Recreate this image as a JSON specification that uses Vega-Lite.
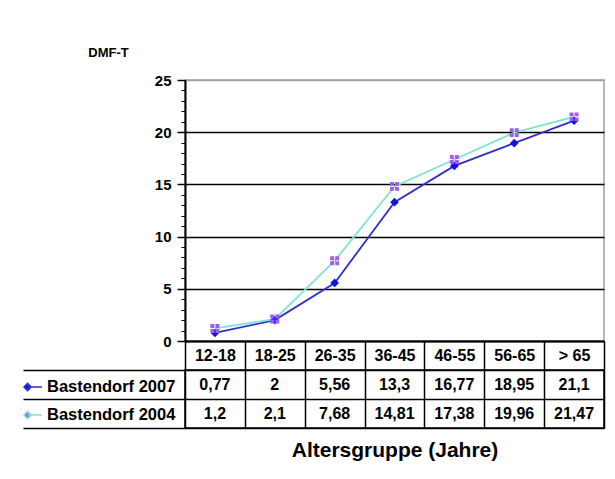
{
  "$schema": "https://vega.github.io/schema/vega-lite/v6.json",
  "autosize": {"type": "pad"},
  "padding": {"left": 21, "top": 45, "right": 5, "bottom": 5},
  "background": "white",
  "bounds": "flush",
  "spacing": 29,
  "config": {
    "font": "Liberation Sans",
    "locale": {"number": {"decimal": ",", "thousands": ".", "grouping": [3], "currency": ["", " €"]}},
    "axis": {"labelColor": "black", "titleColor": "black", "labelFont": "Liberation Sans", "titleFont": "Liberation Sans"},
    "legend": {"labelColor": "black"}
  },
  "datasets": {
    "dmft": [
      {"group": "12-18", "series": "Bastendorf 2007", "value": 0.77},
      {"group": "18-25", "series": "Bastendorf 2007", "value": 2},
      {"group": "26-35", "series": "Bastendorf 2007", "value": 5.56},
      {"group": "36-45", "series": "Bastendorf 2007", "value": 13.3},
      {"group": "46-55", "series": "Bastendorf 2007", "value": 16.77},
      {"group": "56-65", "series": "Bastendorf 2007", "value": 18.95},
      {"group": "> 65", "series": "Bastendorf 2007", "value": 21.1},
      {"group": "12-18", "series": "Bastendorf 2004", "value": 1.2},
      {"group": "18-25", "series": "Bastendorf 2004", "value": 2.1},
      {"group": "26-35", "series": "Bastendorf 2004", "value": 7.68},
      {"group": "36-45", "series": "Bastendorf 2004", "value": 14.81},
      {"group": "46-55", "series": "Bastendorf 2004", "value": 17.38},
      {"group": "56-65", "series": "Bastendorf 2004", "value": 19.96},
      {"group": "> 65", "series": "Bastendorf 2004", "value": 21.47}
    ]
  },
  "vconcat": [
    {
      "width": 419,
      "height": 261,
      "view": {"stroke": "#a0a0a0", "strokeWidth": 1.5},
      "data": {"name": "dmft"},
      "encoding": {
        "x": {
          "field": "group", "type": "ordinal",
          "sort": ["12-18", "18-25", "26-35", "36-45", "46-55", "56-65", "> 65"],
          "bandPosition": 0.5,
          "scale": {"type": "band", "paddingInner": 0, "paddingOuter": 0},
          "axis": {
            "orient": "bottom", "title": null, "grid": false,
            "domainColor": "black", "domainWidth": 2,
            "ticks": true, "tickBand": "extent", "tickSize": 29, "tickColor": "black", "tickWidth": 1.5,
            "labelFontSize": 16, "labelFontWeight": "bold", "labelBaseline": "middle", "labelPadding": -14.5,
            "labelAngle": 0, "labelOverlap": false
          }
        }
      },
      "layer": [
        {
          "mark": {"type": "line", "strokeWidth": 1.8},
          "encoding": {
            "y": {
              "field": "value", "type": "quantitative",
              "scale": {"domain": [0, 25], "nice": false},
              "axis": {
                "values": [0, 5, 10, 15, 20, 25],
                "domainColor": "black", "domainWidth": 2,
                "tickSize": 8, "tickColor": "black", "tickWidth": 1.5,
                "labelFontSize": 15, "labelFontWeight": "bold", "labelPadding": 6,
                "grid": true, "gridWidth": 1.5,
                "gridColor": {"condition": {"test": "datum.value == 25", "value": "#a0a0a0"}, "value": "black"},
                "title": "DMF-T", "titleAngle": 0, "titleFontSize": 13, "titleFontWeight": "bold",
                "titleX": -77, "titleY": -28, "titleAlign": "center", "titleBaseline": "middle"
              }
            },
            "stroke": {
              "field": "series", "type": "nominal",
              "scale": {"domain": ["Bastendorf 2007", "Bastendorf 2004"], "range": ["#3030cc", "#7fe3d0"]},
              "legend": {
                "orient": "none", "legendX": -162, "legendY": 297, "title": null, "padding": 0,
                "labelFontSize": 16.5, "labelFontWeight": "bold", "labelOffset": 4, "labelLimit": 300,
                "symbolSize": 324, "rowPadding": 9,
                "symbolType": "M-0.6,0H1M-1,0L-0.6,-0.4L-0.2,0L-0.6,0.4Z",
                "symbolStrokeWidth": 1.5, "symbolOpacity": 1
              }
            }
          }
        },
        {
          "transform": [{"filter": "datum.series === 'Bastendorf 2007'"}],
          "mark": {"type": "point", "filled": true, "opacity": 1, "strokeWidth": 0, "shape": "diamond", "size": 75},
          "encoding": {
            "y": {
              "field": "value", "type": "quantitative",
              "axis": {
                "orient": "left",
                "values": [0, 1, 2, 3, 4, 5, 6, 7, 8, 9, 10, 11, 12, 13, 14, 15, 16, 17, 18, 19, 20, 21, 22, 23, 24, 25],
                "labels": false, "domain": false, "grid": false, "title": null,
                "tickSize": 4, "tickColor": "black", "tickWidth": 1
              }
            },
            "fill": {
              "field": "series", "type": "nominal",
              "scale": {"domain": ["Bastendorf 2007", "Bastendorf 2004"], "range": ["#1010e8", "#a05cf0"]}
            }
          }
        },
        {
          "transform": [{"filter": "datum.series === 'Bastendorf 2004'"}],
          "mark": {"type": "point", "filled": true, "opacity": 1, "strokeWidth": 0, "size": 80,
                   "shape": "M-1,-1H-0.12V-0.12H-1ZM0.12,-1H1V-0.12H0.12ZM-1,0.12H-0.12V1H-1ZM0.12,0.12H1V1H0.12Z"},
          "encoding": {
            "y": {"field": "value", "type": "quantitative", "axis": null},
            "fill": {
              "field": "series", "type": "nominal",
              "scale": {"domain": ["Bastendorf 2007", "Bastendorf 2004"], "range": ["#1010e8", "#a05cf0"]}
            }
          }
        }
      ],
      "resolve": {"axis": {"y": "independent"}}
    },
    {
      "width": 419,
      "height": 58,
      "view": {"stroke": "black", "strokeWidth": 1.5},
      "data": {"name": "dmft"},
      "mark": {"type": "text", "fontSize": 16, "fontWeight": "bold", "baseline": "middle", "align": "center", "color": "black"},
      "encoding": {
        "x": {
          "field": "group", "type": "ordinal",
          "sort": ["12-18", "18-25", "26-35", "36-45", "46-55", "56-65", "> 65"],
          "scale": {"type": "band", "paddingInner": 0, "paddingOuter": 0},
          "axis": {
            "orient": "bottom", "tickBand": "extent", "grid": true, "gridColor": "black", "gridWidth": 1.5,
            "labels": false, "ticks": false, "domain": false,
            "title": "Altersgruppe (Jahre)", "titleFontSize": 21, "titleFontWeight": "bold", "titlePadding": 11
          }
        },
        "y": {
          "field": "series", "type": "nominal",
          "sort": ["Bastendorf 2007", "Bastendorf 2004"],
          "scale": {"type": "band", "paddingInner": 0, "paddingOuter": 0},
          "axis": {
            "tickBand": "extent", "ticks": true, "tickSize": 162, "tickColor": "black", "tickWidth": 1.5,
            "labels": false, "domain": false, "grid": true, "gridColor": "black", "gridWidth": 1.5, "title": null
          }
        },
        "text": {"field": "value", "type": "quantitative", "format": "~g"}
      }
    }
  ]
}
